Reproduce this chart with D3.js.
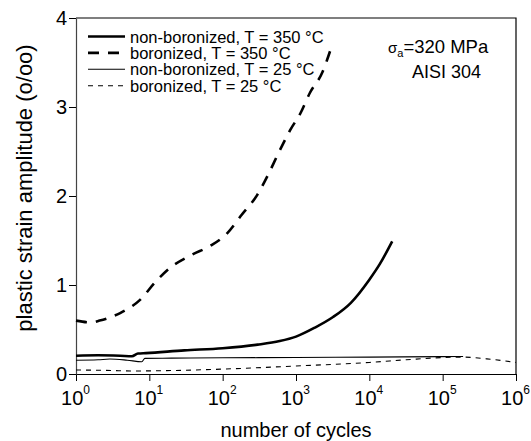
<!DOCTYPE html>
<html>
<head>
<meta charset="utf-8">
<script src="https://cdn.jsdelivr.net/npm/d3@7"></script>
<style>
  body { margin: 0; background: #fff; }
  text { font-family: "Liberation Sans", Arial, sans-serif; fill: #000; }
</style>
</head>
<body>
<div id="chart"></div>
<script>
// cycles (N) and plastic strain amplitude (o/oo)
const nonboronized_350_cycles = [1, 2, 4, 5.8, 7, 9, 30, 100, 300, 600, 1000, 1800, 3200, 5600, 10000, 14000, 20500];
const nonboronized_350_values = [0.205, 0.21, 0.205, 0.20, 0.23, 0.235, 0.265, 0.29, 0.33, 0.37, 0.42, 0.52, 0.64, 0.80, 1.06, 1.24, 1.49];

const boronized_350_cycles = [1, 1.6, 2.1, 4, 7.4, 12, 19, 38, 68, 115, 182, 295, 417, 575, 832, 1150, 1550, 2290, 2950];
const boronized_350_values = [0.60, 0.58, 0.60, 0.685, 0.83, 1.03, 1.19, 1.34, 1.44, 1.58, 1.79, 2.01, 2.24, 2.48, 2.74, 2.93, 3.16, 3.39, 3.64];

const nonboronized_25_cycles = [1, 2, 2.9, 5, 7.9, 8.7, 20, 100, 1000, 10000, 100000, 190000];
const nonboronized_25_values = [0.155, 0.16, 0.168, 0.155, 0.138, 0.176, 0.178, 0.182, 0.185, 0.19, 0.195, 0.197];

const boronized_25_cycles = [1, 3, 5.6, 10, 100, 1000, 10000, 32000, 100000, 190000, 400000, 1000000];
const boronized_25_values = [0.045, 0.04, 0.034, 0.035, 0.055, 0.09, 0.13, 0.16, 0.185, 0.19, 0.17, 0.13];

const x_ticks = [1, 10, 100, 1000, 10000, 100000, 1000000];
const y_ticks = [0, 1, 2, 3, 4];
const legend_labels = ["non-boronized, T = 350 °C", "boronized, T = 350 °C", "non-boronized, T = 25 °C", "boronized, T = 25 °C"];

function zip(cycles, values) {
  return cycles.map((c, i) => ({cycles: c, value: values[i]}));
}

const series = [
  {data: zip(nonboronized_350_cycles, nonboronized_350_values), width: 2.6, dash: null},
  {data: zip(boronized_350_cycles, boronized_350_values), width: 2.6, dash: "11,9"},
  {data: zip(nonboronized_25_cycles, nonboronized_25_values), width: 1.1, dash: null},
  {data: zip(boronized_25_cycles, boronized_25_values), width: 1.1, dash: "5,5"}
];

function PlotChart(parent_element) {
  const margin = {top: 18, right: 15, bottom: 67, left: 76};
  const width = 531 - margin.left - margin.right;
  const height = 441 - margin.top - margin.bottom;

  const svg = d3.select("#" + parent_element)
    .append("svg")
      .attr("width", 531)
      .attr("height", 441)
    .append("g")
      .attr("transform", `translate(${margin.left},${margin.top})`);

  const x = d3.scaleLog().domain([1, 1e6]).range([0, width]);
  const y = d3.scaleLinear().domain([0, 4]).range([height, 0]);

  // frame (top and right sides)
  svg.append("path")
      .attr("d", `M0,0H${width}V${height}`)
      .attr("fill", "none")
      .attr("stroke", "#000")
      .attr("stroke-width", 1.2);

  const xAxis = svg.append("g")
      .attr("transform", `translate(0,${height})`)
      .call(d3.axisBottom(x).tickValues(x_ticks).tickSize(7).tickSizeOuter(0).tickFormat(""));
  xAxis.select(".domain").attr("stroke-width", 1.2);

  const xLabels = xAxis.selectAll(".tick").append("text")
      .attr("x", -1)
      .attr("y", 31)
      .attr("text-anchor", "middle")
      .style("font-size", "20px");
  xLabels.append("tspan").text("10");
  xLabels.append("tspan")
      .attr("dy", -11)
      .style("font-size", "12px")
      .text(d => Math.round(Math.log10(d)));

  const yAxis = svg.append("g")
      .call(d3.axisLeft(y).tickValues(y_ticks).tickSize(7).tickSizeOuter(0).tickFormat(d3.format("d")));
  yAxis.select(".domain").attr("stroke-width", 1.2).attr("stroke", "#444");
  yAxis.selectAll(".tick text")
      .attr("x", -9)
      .style("font-size", "20px");

  svg.append("text")
      .attr("x", width / 2)
      .attr("y", height + 63)
      .attr("text-anchor", "middle")
      .style("font-size", "20px")
      .text("number of cycles");

  svg.append("text")
      .attr("transform", "rotate(-90)")
      .attr("x", -height / 2 + 8)
      .attr("y", -44)
      .attr("text-anchor", "middle")
      .style("font-size", "22px")
      .text("plastic strain amplitude (o/oo)");

  const line = d3.line()
    .x(d => x(d.cycles))
    .y(d => y(d.value))
    .curve(d3.curveMonotoneX);

  series.forEach(s => {
    svg.append("path")
        .datum(s.data)
        .attr("d", line)
        .attr("fill", "none")
        .attr("stroke", "#000")
        .attr("stroke-width", s.width)
        .attr("stroke-dasharray", s.dash);
  });

  // legend
  const legend = svg.append("g").attr("transform", "translate(12,18.5)");
  legend_labels.forEach((label, i) => {
    const row = legend.append("g").attr("transform", `translate(0,${i * 16.4})`);
    row.append("line")
        .attr("x1", 0).attr("x2", 37)
        .attr("stroke", "#000")
        .attr("stroke-width", series[i].width)
        .attr("stroke-dasharray", series[i].dash);
    row.append("text")
        .attr("x", 42)
        .attr("y", 6)
        .style("font-size", "16.5px")
        .text(label);
  });

  // annotation
  const note = svg.append("text")
      .attr("x", 312)
      .attr("y", 35)
      .style("font-size", "18.5px");
  note.append("tspan").style("font-size", "15px").text("σ");
  note.append("tspan").attr("dy", 4).style("font-size", "11px").text("a");
  note.append("tspan").attr("dy", -4).text("=320 MPa");

  svg.append("text")
      .attr("x", 336)
      .attr("y", 60)
      .style("font-size", "18px")
      .text("AISI 304");
}

document.addEventListener('DOMContentLoaded', (event) => {
  PlotChart("chart");
});
</script>
</body>
</html>
